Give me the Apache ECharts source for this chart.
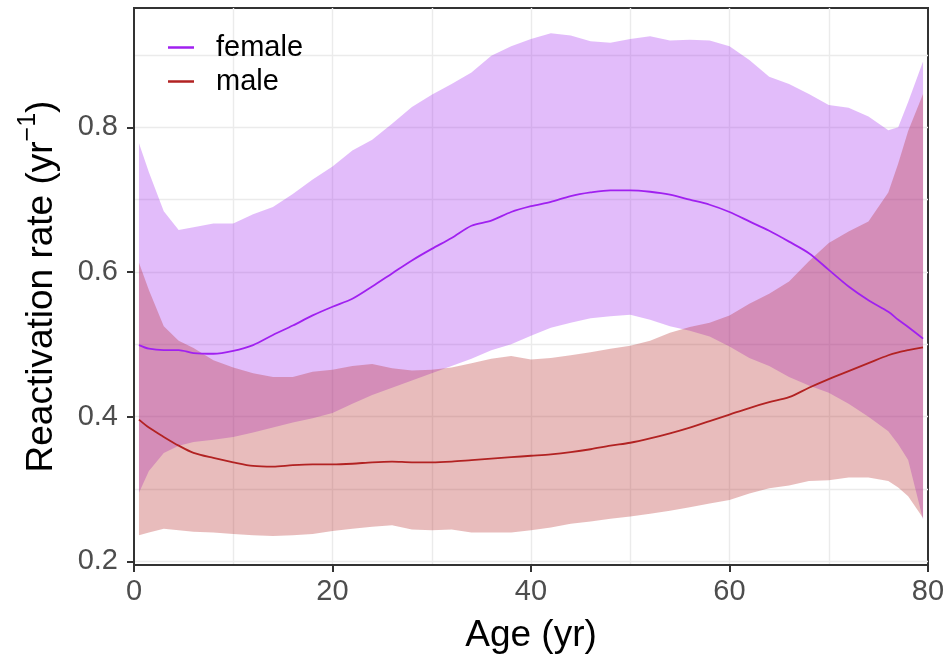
<!DOCTYPE html>
<html><head><meta charset="utf-8">
<script src="https://cdn.jsdelivr.net/npm/echarts@6/dist/echarts.min.js"></script>
<style>html,body{margin:0;padding:0;background:#fff}#c{width:948px;height:665px}</style>
</head><body><div id="c"></div>
<script>
const ages = [0.5,1.5,3,4.5,6,8,10,12,14,16,18,20,22,24,26,28,30,32,34,36,38,40,42,44,46,48,50,52,54,56,58,60,62,64,66,68,70,72,74,76,77,78,79.5];
const femaleMean = [0.499,0.494,0.492,0.492,0.488,0.487,0.491,0.499,0.513,0.526,0.540,0.552,0.563,0.580,0.598,0.616,0.632,0.647,0.664,0.671,0.683,0.691,0.697,0.705,0.710,0.713,0.713,0.711,0.707,0.700,0.693,0.683,0.670,0.657,0.642,0.626,0.603,0.580,0.561,0.545,0.534,0.524,0.508];
const femaleUpper = [0.778,0.738,0.684,0.658,0.662,0.667,0.667,0.680,0.690,0.708,0.728,0.746,0.768,0.783,0.805,0.828,0.845,0.860,0.876,0.899,0.912,0.922,0.930,0.927,0.919,0.917,0.922,0.926,0.920,0.921,0.920,0.912,0.893,0.870,0.860,0.846,0.831,0.827,0.815,0.796,0.800,0.835,0.891];
const femaleLower = [0.295,0.325,0.350,0.360,0.365,0.368,0.372,0.378,0.385,0.392,0.398,0.405,0.418,0.430,0.440,0.450,0.460,0.470,0.480,0.492,0.500,0.512,0.523,0.530,0.536,0.539,0.541,0.534,0.525,0.519,0.511,0.497,0.481,0.470,0.455,0.443,0.433,0.418,0.400,0.380,0.362,0.340,0.258];
const maleMean = [0.396,0.385,0.372,0.360,0.350,0.343,0.337,0.332,0.331,0.333,0.334,0.334,0.335,0.337,0.338,0.337,0.337,0.338,0.340,0.342,0.344,0.346,0.348,0.351,0.355,0.360,0.364,0.370,0.377,0.385,0.394,0.403,0.412,0.420,0.427,0.440,0.452,0.463,0.474,0.485,0.489,0.492,0.496];
const maleUpper = [0.613,0.575,0.525,0.505,0.495,0.478,0.468,0.460,0.455,0.455,0.462,0.465,0.470,0.473,0.467,0.464,0.465,0.468,0.474,0.480,0.484,0.479,0.481,0.485,0.489,0.494,0.498,0.505,0.516,0.524,0.530,0.540,0.556,0.570,0.587,0.615,0.640,0.656,0.670,0.710,0.750,0.795,0.846];
const maleLower = [0.236,0.240,0.245,0.243,0.241,0.240,0.238,0.236,0.235,0.236,0.238,0.242,0.245,0.248,0.250,0.244,0.243,0.244,0.240,0.240,0.240,0.243,0.247,0.252,0.255,0.259,0.262,0.266,0.270,0.275,0.280,0.285,0.294,0.301,0.305,0.311,0.312,0.316,0.316,0.311,0.302,0.290,0.260];
const xTicks = [0,20,40,60,80];
const yTicks = [0.2,0.4,0.6,0.8];
const xGrid = [10,20,30,40,50,60,70];
const yGrid = [0.2,0.3,0.4,0.5,0.6,0.7,0.8,0.9];

const FC = '#A020F0', MC = '#B22222';
const pairs = (ys) => ages.map((a,i)=>[a, ys[i]]);
const gridLineStyle = {color:'#EBEBEB', width:1.4, type:'solid'};

function bandSeries(name, up, lo, fill){
  return {
    name:name, type:'custom', silent:true, z:2,
    data: ages.map((a,i)=>[a, up[i], lo[i]]),
    encode:{x:0, y:[1,2]},
    renderItem:(params, api)=>{
      if (params.dataIndex !== 0) return null;
      const pts = [];
      for (let i=0;i<ages.length;i++) pts.push(api.coord([ages[i], up[i]]));
      for (let i=ages.length-1;i>=0;i--) pts.push(api.coord([ages[i], lo[i]]));
      return {type:'polygon', shape:{points:pts}, style:{fill:fill, stroke:null}};
    }
  };
}

const chart = echarts.init(document.getElementById('c'), null, {renderer:'canvas'});
chart.setOption({
  animation:false,
  backgroundColor:'#fff',
  textStyle:{fontFamily:'Liberation Sans, Arial, sans-serif'},
  grid:{left:134, top:8, right:20, bottom:100, show:true, borderColor:'#333', borderWidth:2, backgroundColor:'transparent'},
  legend:{
    data:['female','male'], left:163, top:28, orient:'vertical', itemGap:5,
    icon:'rect', itemWidth:26, itemHeight:2.5,
    textStyle:{fontSize:29, color:'#000', padding:[0,0,0,17]}
  },
  xAxis:{
    type:'value', min:0, max:80,
    name:'Age (yr)', nameLocation:'middle', nameGap:52,
    nameTextStyle:{fontSize:37, color:'#000'},
    axisLine:{show:true, lineStyle:{color:'#333', width:2}},
    axisTick:{show:true, customValues:xTicks, length:7, lineStyle:{color:'#333', width:2}},
    axisLabel:{customValues:xTicks, fontSize:29, color:'#4D4D4D', margin:12},
    splitLine:{show:false}
  },
  yAxis:{
    type:'value', min:0.195, max:0.965,
    name:'{a|Reactivation rate (yr}{s|−1}{a|)}', nameLocation:'middle', nameGap:74,
    nameTextStyle:{rich:{a:{fontSize:37, color:'#000', verticalAlign:'bottom', lineHeight:44}, s:{fontSize:25, color:'#000', verticalAlign:'top', lineHeight:14}}},
    axisLine:{show:true, lineStyle:{color:'#333', width:2}},
    axisTick:{show:true, customValues:yTicks, length:7, lineStyle:{color:'#333', width:2}},
    axisLabel:{customValues:yTicks, fontSize:29, color:'#4D4D4D', margin:16, formatter:(v)=>v.toFixed(1)},
    splitLine:{show:false}
  },
  series:[
    {name:'gridlines', type:'line', data:[], z:0, silent:true,
     markLine:{silent:true, z:0, symbol:'none', label:{show:false}, animation:false, lineStyle:gridLineStyle,
       data:[...xGrid.map(v=>({xAxis:v})), ...yGrid.map(v=>({yAxis:v}))]}},
    bandSeries('fBand', femaleUpper, femaleLower, 'rgba(160,32,240,0.3)'),
    bandSeries('mBand', maleUpper, maleLower, 'rgba(178,34,34,0.3)'),
    {name:'female', type:'line', data:pairs(femaleMean), symbol:'none', smooth:0.3, color:FC, lineStyle:{color:FC, width:1.8}, z:3},
    {name:'male', type:'line', data:pairs(maleMean), symbol:'none', smooth:0.3, color:MC, lineStyle:{color:MC, width:1.8}, z:3}
  ]
});
</script></body></html>
